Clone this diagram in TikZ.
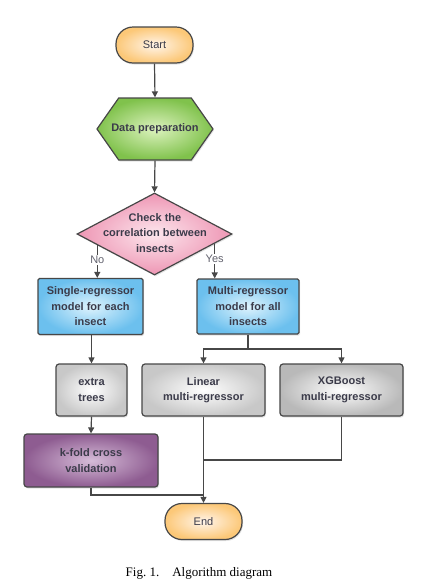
\documentclass[tikz,border=0pt]{standalone}
\usepackage{fontspec}
\setmainfont{Liberation Sans}
\newfontfamily\capfont{Liberation Serif}
\usetikzlibrary{arrows.meta,shapes.geometric,shapes.symbols,shadows}
\definecolor{edge}{HTML}{474747}
\definecolor{txt}{HTML}{3B3B4A}
\begin{document}
\begin{tikzpicture}[x=1pt,y=-1pt,
  base/.style={draw=edge,line width=1.2pt,text=txt,inner sep=0pt,align=center,
    font=\fontsize{11}{15.5}\selectfont\bfseries,
    drop shadow={opacity=0.22,shadow xshift=1pt,shadow yshift=-1.5pt}},
  term/.style={base,rectangle,rounded corners=17pt,inner color=orange!8,outer color={rgb,255:red,252;green,200;blue,120},
    font=\fontsize{11}{15.5}\selectfont,minimum width=77pt,minimum height=36pt},
  hexa/.style={base,signal,signal to=east and west,signal pointer angle=110,
    inner color={rgb,255:red,220;green,242;blue,190},outer color={rgb,255:red,128;green,194;blue,76},
    minimum width=116pt,minimum height=62pt},
  decide/.style={base,diamond,inner color={rgb,255:red,252;green,230;blue,237},outer color={rgb,255:red,238;green,150;blue,180},
    minimum width=155pt,minimum height=82pt},
  blue/.style={base,rectangle,rounded corners=1.5pt,inner color={rgb,255:red,222;green,243;blue,253},outer color={rgb,255:red,108;green,192;blue,238}},
  gray/.style={base,rectangle,rounded corners=3pt,inner color=white,outer color={rgb,255:red,200;green,200;blue,200}},
  purple/.style={base,rectangle,rounded corners=3pt,inner color={rgb,255:red,214;green,188;blue,216},outer color={rgb,255:red,142;green,92;blue,145}},
  line/.style={draw=edge,line width=1.2pt},
  arr/.style={line,-{Triangle[width=6pt,length=6pt]}},
  lbl/.style={fill=white,text=txt!80,inner sep=1pt,font=\fontsize{11}{13}\selectfont}
]
\useasboundingbox (0,0) rectangle (430,587);
\node[term] (start) at (154.5,45) {Start};
\node[hexa] (prep) at (155,129) {};
\node[text=txt,font=\fontsize{11}{15.5}\selectfont\bfseries] (preptext) at (prep) {Data preparation};
\node[decide] (dia) at (154.5,234) {};
\node[text=txt,align=center,font=\fontsize{11}{15.5}\selectfont\bfseries] (diatext) at (155,233) {Check the\\correlation between\\insects};
\node[blue,minimum width=105pt,minimum height=56pt] (single) at (90.5,306.5) {Single-regressor\\model for each\\insect};
\node[blue,minimum width=102pt,minimum height=55pt] (multi) at (248,306.5) {Multi-regressor\\model for all\\insects};
\node[gray,minimum width=71pt,minimum height=52pt] (extra) at (91.5,390) {extra\\trees};
\node[gray,minimum width=123pt,minimum height=52pt] (linear) at (203.5,390) {Linear\\multi-regressor};
\node[gray,minimum width=123pt,minimum height=52pt,outer color={rgb,255:red,185;green,185;blue,185}] (xgb) at (341.5,390) {XGBoost\\multi-regressor};
\node[purple,minimum width=134pt,minimum height=53pt] (kfold) at (91,460.5) {k-fold cross\\validation};
\node[term] (end) at (203.5,521.5) {End};
\node[font=\capfont\fontsize{13}{15}\selectfont] (cap) at (199,573) {Fig.~1.\quad Algorithm diagram};
\coordinate (split) at (248,349);
\coordinate (m1) at (203.5,460);
\coordinate (m2) at (203.5,495);
\draw[arr] (start.south) -- (prep.north);
\draw[arr] (prep.south) -- (dia.north);
\draw[arr] (dia.191) -- node[lbl,pos=0.45]{No} (dia.191 |- single.north);
\draw[arr] (dia.351) -- node[lbl,pos=0.45]{Yes} (dia.351 |- multi.north);
\draw[arr] (single.south) -- (single.south -| extra.north) -- (extra.north);
\draw[line] (multi.south) -- (split);
\draw[arr] (split) -| (linear.north);
\draw[arr] (split) -| (xgb.north);
\draw[arr] (extra.south) -- (kfold.north);
\draw[arr] (linear.south) -- (end.north);
\draw[line] (xgb.south) |- (m1);
\draw[line] (kfold.south) |- (m2);
\end{tikzpicture}
\end{document}
